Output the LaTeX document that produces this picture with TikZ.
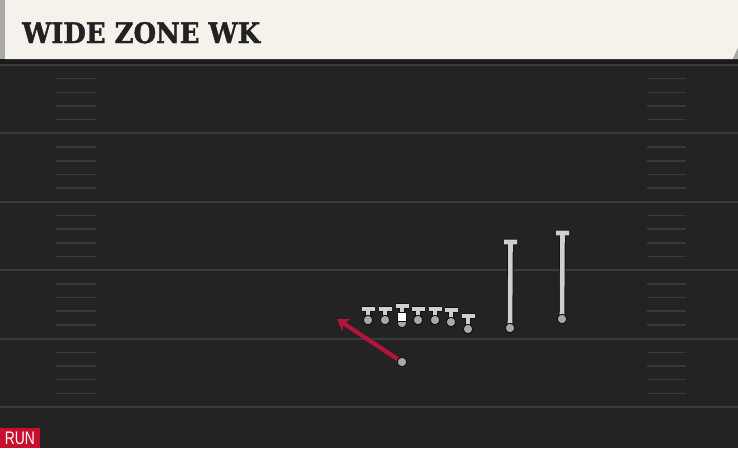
\documentclass[tikz,border=0pt]{standalone}
\usepackage{fontspec}
\usetikzlibrary{arrows.meta}
\newfontfamily\titlefont{DejaVu Serif}[BoldFeatures={FakeBold=1.5}]
\newfontfamily\tagfont{Liberation Sans}
\definecolor{fieldbg}{HTML}{232323}
\definecolor{topband}{HTML}{1A1A1A}
\definecolor{yardline}{HTML}{3A3A3A}
\definecolor{hashcol}{HTML}{393939}
\definecolor{cream}{HTML}{F5F2EB}
\definecolor{strip}{HTML}{A9AAA7}
\definecolor{titleink}{HTML}{222222}
\definecolor{stemgray}{HTML}{CFCFCF}
\definecolor{plgray}{HTML}{A8A8A8}
\definecolor{outl}{HTML}{111111}
\definecolor{runred}{HTML}{B3143C}
\definecolor{tagred}{HTML}{C8102E}
\pgfdeclarelayer{field}
\pgfdeclarelayer{stems}
\pgfsetlayers{field,stems,main}
\begin{document}
\begin{tikzpicture}[x=1pt,y=-1pt,
  yardstyle/.style={draw=yardline, line width=2pt},
  hashstyle/.style={draw=hashcol, line width=1.5pt},
  player/.style={circle, fill=plgray, draw=outl, line width=0.9pt, minimum size=9.5pt, inner sep=0pt},
  centersq/.style={rectangle, fill=white, draw=outl, line width=0.8pt, minimum size=8.5pt, inner sep=0pt},
  blockline/.style={draw=stemgray, line width=4.6pt, line cap=butt, preaction={draw=outl, line width=6.4pt}},
  runarrow/.style={draw=runred, line width=4.2pt, -{Stealth[length=11pt,width=14pt,inset=3pt]}},
]
\useasboundingbox (0,0) rectangle (738,448);
\begin{pgfonlayer}{field}
% field
\fill[fieldbg] (0,0) rectangle (738,448);
\fill[topband] (0,59) rectangle (738,64);
\foreach \k in {0,...,5} {
  \draw[yardstyle] (0,65+68.4*\k) -- (738,65+68.4*\k);
}
\foreach \k in {0,...,4} {
  \foreach \j in {1,...,4} {
    \draw[hashstyle] (56,65+68.4*\k+13.68*\j) -- (96,65+68.4*\k+13.68*\j);
    \draw[hashstyle] (647,65+68.4*\k+13.68*\j) -- (686,65+68.4*\k+13.68*\j);
  }
}
% header
\fill[strip] (0,0) rectangle (5,59);
\fill[cream] (5,0) -- (738,0) -- (738,48) -- (733,59) -- (5,59) -- cycle;
\fill[strip] (738,48) -- (738,59) -- (733,59) -- cycle;
% RUN tag
\fill[tagred] (0,428) rectangle (40,448);
\end{pgfonlayer}
\node[anchor=base west, inner sep=0pt, text=titleink] (title) at (22,43)
  {\resizebox{238pt}{21pt}{\titlefont\bfseries WIDE ZONE WK}};
\node[inner sep=0pt, text=white] (tag) at (20,438.5)
  {\resizebox{30pt}{12.5pt}{\tagfont RUN}};
% players
\node[player] (L1) at (368,320) {};
\node[player] (L2) at (385,320) {};
\node[player] (C)  at (402,323) {};
\node[centersq] (Csq) at (402,317) {};
\node[player] (L4) at (418,320) {};
\node[player] (L5) at (435,320) {};
\node[player] (L6) at (451,322) {};
\node[player] (TE) at (468,329) {};
\node[player] (WR1) at (510,328) {};
\node[player] (WR2) at (562,319) {};
\node[player] (RB) at (402,362) {};
% block targets
\coordinate (L1t) at (368,309);
\coordinate (L2t) at (385,309);
\coordinate (Ct)  at (402,306);
\coordinate (L4t) at (418,309);
\coordinate (L5t) at (435,309);
\coordinate (L6t) at (451,310);
\coordinate (TEt) at (468,316);
\coordinate (WR1t) at (510.5,242);
\coordinate (WR2t) at (562.5,233);
\coordinate (RBt) at (337,319);
\begin{pgfonlayer}{stems}
\foreach \p in {L1,L2,C,L4,L5,L6,TE,WR1,WR2} {
  \draw[blockline] ([xshift=-6.5pt]\p t) -- ([xshift=6.5pt]\p t) (\p t) -- (\p.center);
}
\draw[runarrow] (RB.center) -- (RBt);
\end{pgfonlayer}
\end{tikzpicture}
\end{document}
